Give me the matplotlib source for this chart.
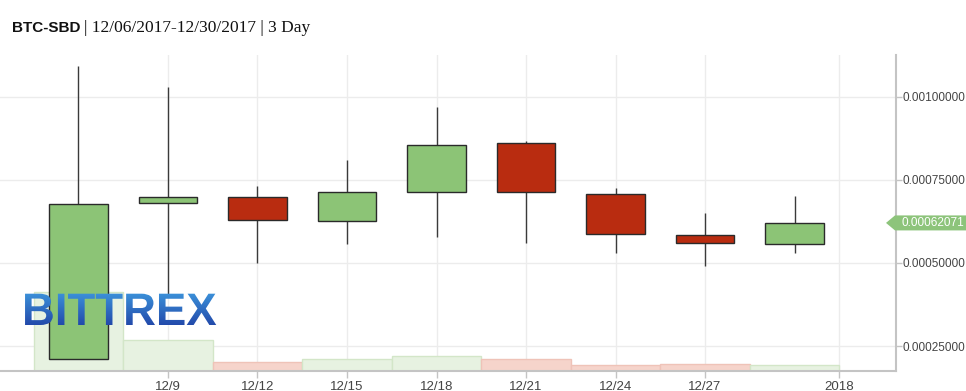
import numpy as np
import matplotlib
matplotlib.use("Agg")
import matplotlib.pyplot as plt
from matplotlib.patches import Polygon, PathPatch
from matplotlib.textpath import TextPath
from matplotlib.font_manager import FontProperties
import matplotlib.transforms as mtransforms

# 3-day candles, x = day of December 2017
days = [6, 9, 12, 15, 18, 21, 24, 27, 30]
opens = [0.000212, 0.000681, 0.000699, 0.000627, 0.000714, 0.000861, 0.000708, 0.000584, 0.000556]
closes = [0.000678, 0.000698, 0.000630, 0.000714, 0.000855, 0.000714, 0.000587, 0.000560, 0.00062071]
highs = [0.001093, 0.001031, 0.000732, 0.000810, 0.000970, 0.000867, 0.000726, 0.000650, 0.000702]
lows = [0.000212, 0.000404, 0.000500, 0.000557, 0.000578, 0.000560, 0.000530, 0.000490, 0.000529]
volumes = [24.8, 9.7, 2.9, 3.8, 4.7, 3.8, 1.9, 2.3, 1.9]

x_ticks = [9, 12, 15, 18, 21, 24, 27, 31.5]
x_labels = ["12/9", "12/12", "12/15", "12/18", "12/21", "12/24", "12/27", "2018"]
y_ticks = [0.00025, 0.0005, 0.00075, 0.001]
last_price = closes[-1]

GREEN = "#8cc476"
RED = "#b92c10"
VOL_GREEN = "#e7f2e1"
VOL_RED = "#f6d4cb"

W, H = 966, 391
Y0, Y1 = 0.0001747, 0.0011265
fig = plt.figure(figsize=(W / 100, H / 100), dpi=100)
ax = fig.add_axes([0, 20 / H, 896 / W, 316 / H])
ax.set_xlim(3.37, 33.4)
ax.set_ylim(Y0, Y1)

# volume on its own hidden scale
vax = ax.twinx()
vax.set_ylim(0, max(volumes) * 4)
vax.set_axis_off()
up = np.array(closes) >= np.array(opens)
vax.bar(days, volumes, width=3, color=[VOL_GREEN if u else VOL_RED for u in up],
        edgecolor=["#d3e6c8" if u else "#efc3b8" for u in up], linewidth=1, zorder=1)
ax.set_zorder(vax.get_zorder() + 1)
ax.patch.set_visible(False)
vax.patch.set_visible(False)

# grid behind the volume bars
for t in x_ticks:
    vax.axvline(t, color="#ececec", lw=1, zorder=0)
for t in y_ticks:
    vax.axhline((t - Y0) / (Y1 - Y0) * max(volumes) * 4, color="#ececec", lw=1, zorder=0)

# candles
ax.vlines(days, lows, highs, color="#3a3a3a", lw=1, zorder=2)
bottoms = np.minimum(opens, closes)
heights = np.abs(np.array(closes) - np.array(opens))
ax.bar(days, heights, bottom=bottoms, width=1.95,
       color=[GREEN if u else RED for u in up], edgecolor="#2a2a2a", linewidth=1, zorder=3)

# axes styling
for s in ["top", "left"]:
    ax.spines[s].set_visible(False)
for s in ["right", "bottom"]:
    ax.spines[s].set_color("#c4c4c4")
    ax.spines[s].set_linewidth(1.5)
ax.yaxis.tick_right()
ax.set_yticks(y_ticks)
ax.set_yticklabels([f"{v:.8f}" for v in y_ticks])
ax.set_xticks(x_ticks)
ax.set_xticklabels(x_labels)
ax.tick_params(axis="y", length=4, width=1, color="#c4c4c4", pad=1,
               labelsize=8.5, labelcolor="#444444")
ax.tick_params(axis="x", length=5, width=1, color="#c4c4c4", pad=2,
               labelsize=9.5, labelcolor="#444444")
for lab in ax.get_xticklabels() + ax.get_yticklabels():
    lab.set_family("Liberation Sans")

# last price tag
trans = mtransforms.blended_transform_factory(ax.transAxes, ax.transData)
hh = 7.5 * (Y1 - Y0) / 316
tag = Polygon([(886 / 896, last_price), (895 / 896, last_price + hh), (1.08, last_price + hh),
               (1.08, last_price - hh), (895 / 896, last_price - hh)],
              closed=True, transform=trans, facecolor="#8dc47b", edgecolor="none",
              clip_on=False, zorder=5)
ax.add_patch(tag)
ax.text(902 / 896, last_price, f"{last_price:.8f}", transform=trans, color="white",
        fontsize=8.5, family="Liberation Sans", va="center", ha="left", zorder=6)

# title
fig.text(12 / W, (H - 32) / H, "BTC-SBD", fontsize=11, fontweight="bold",
         family="Liberation Sans", color="#111111", va="baseline")
fig.text(84 / W, (H - 32) / H, "| 12/06/2017-12/30/2017 | 3 Day", fontsize=12.5,
         family="Liberation Serif", color="#111111", va="baseline")

# BITTREX watermark with a blue gradient
lax = fig.add_axes([0, 0, 1, 1], zorder=10)
lax.set_xlim(0, W)
lax.set_ylim(0, H)
lax.set_axis_off()
lax.patch.set_visible(False)
tp = TextPath((22, 66), "BITTREX", size=45.5,
              prop=FontProperties(family="Liberation Sans", weight="bold"))
patch = PathPatch(tp, facecolor="none", edgecolor="none", transform=lax.transData)
lax.add_patch(patch)
grad = np.linspace(0, 1, 64).reshape(-1, 1)
cmap = matplotlib.colors.LinearSegmentedColormap.from_list("bx", ["#2146a8", "#3d95dc"])
img = lax.imshow(grad, extent=(20, 225, 64, 100), origin="lower", cmap=cmap,
                 aspect="auto", zorder=11)
img.set_clip_path(patch)

fig.savefig("out.png", dpi=100)
